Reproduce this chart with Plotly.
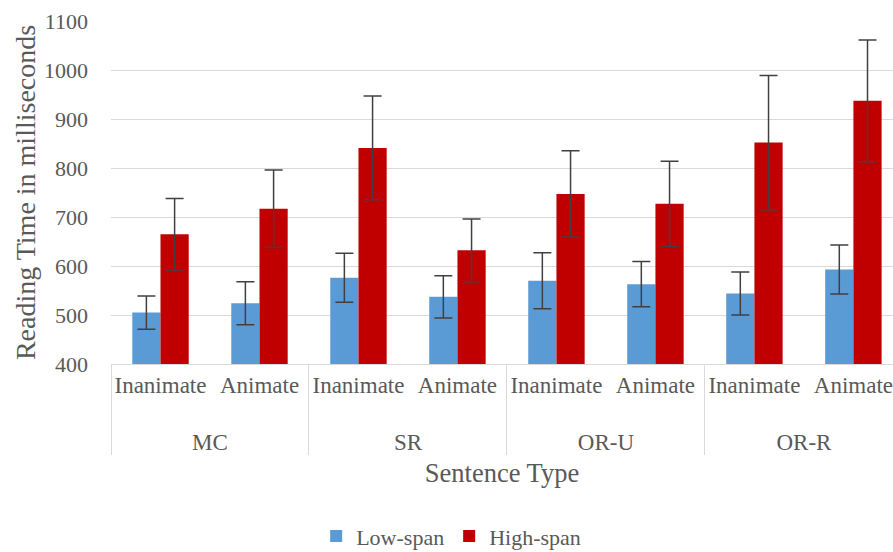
import plotly.graph_objects as go

# Sentence types (outer level) and subject animacy (inner level)
sentence_types = ["MC", "MC", "SR", "SR", "OR-U", "OR-U", "OR-R", "OR-R"]
animacy = ["Inanimate", "Animate"] * 4

# Mean reading times (ms) and error-bar half-widths
low_span = [505, 524, 576, 537, 570, 563, 544, 593]
low_span_err = [34, 44, 50, 43, 57, 46, 44, 50]
high_span = [665, 717, 841, 632, 747, 727, 852, 937]
high_span_err = [73, 79, 106, 64, 88, 87, 137, 124]

y_ticks = [400, 500, 600, 700, 800, 900, 1000, 1100]

FONT = "Liberation Serif"
TEXT = "#595959"
GRID = "#D9D9D9"

# outer labels get an empty first line so they sit lower under the inner row
x = [["<br>" + s for s in sentence_types], animacy]

fig = go.Figure()
fig.add_trace(go.Bar(
    name="Low-span", x=x, y=low_span,
    marker=dict(color="#5B9BD5", line=dict(width=0)),
    error_y=dict(type="data", array=low_span_err, visible=True,
                 color="#404040", thickness=1.5, width=9),
))
fig.add_trace(go.Bar(
    name="High-span", x=x, y=high_span,
    marker=dict(color="#C00000", line=dict(width=0)),
    error_y=dict(type="data", array=high_span_err, visible=True,
                 color="#404040", thickness=1.5, width=9),
))

fig.update_layout(
    width=893, height=552,
    margin=dict(l=111, r=0, t=21, b=188, autoexpand=False),
    paper_bgcolor="white", plot_bgcolor="white",
    barmode="group", bargap=0.43, bargroupgap=0,
    font=dict(family=FONT, color=TEXT, size=22),
    showlegend=True,
    legend=dict(orientation="h", x=0.435, xanchor="center", y=-0.502, yanchor="middle",
                font=dict(family=FONT, size=22, color=TEXT),
                itemwidth=30, traceorder="normal", tracegroupgap=0),
)

fig.update_xaxes(
    type="multicategory",
    range=[-0.5, 7.4],
    showgrid=False,
    showline=True, linecolor=GRID, linewidth=1,
    ticks="outside", ticklen=16, tickcolor="rgba(0,0,0,0)",
    tickangle=0,
    showdividers=True, dividercolor=GRID, dividerwidth=1,
    tickfont=dict(family=FONT, size=23, color=TEXT),
    title=dict(text="Sentence Type", font=dict(family=FONT, size=26.5, color=TEXT), standoff=9),
)
fig.update_yaxes(
    range=[400, 1100], tickvals=y_ticks,
    showgrid=True, gridcolor=GRID, gridwidth=1,
    zeroline=False, showline=False,
    ticklabelstandoff=22,
    tickfont=dict(family=FONT, size=22, color=TEXT),
    title=dict(text="Reading Time in milliseconds", font=dict(family=FONT, size=28, color=TEXT), standoff=0),
)

fig.write_html("out.html")
